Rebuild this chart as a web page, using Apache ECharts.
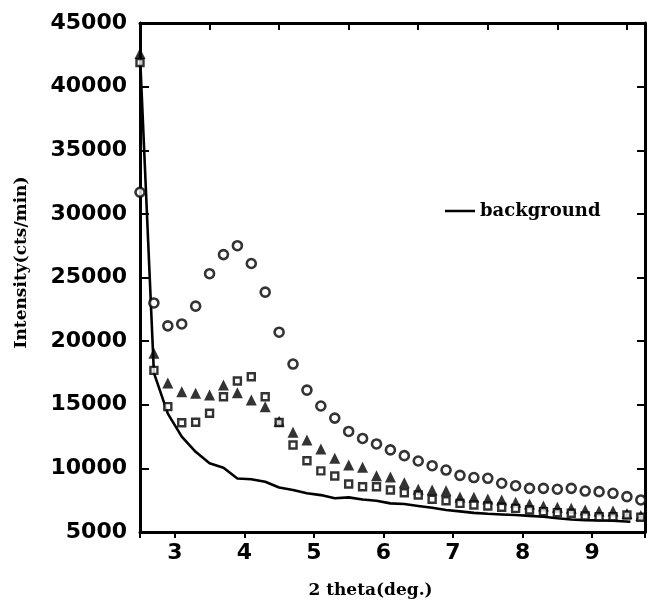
<!DOCTYPE html>
<html>
<head>
<meta charset="utf-8">
<script src="https://cdn.jsdelivr.net/npm/echarts@6/dist/echarts.min.js"></script>
<style>html,body{margin:0;padding:0;background:#fff}#c{width:648px;height:607px}</style>
</head>
<body>
<div id="c"></div>
<script>
// 2 theta sample positions (deg.)
var theta = [2.5,2.7,2.9,3.1,3.3,3.5,3.7,3.9,4.1,4.3,4.5,4.7,4.9,5.1,5.3,5.5,5.7,5.9,6.1,6.3,6.5,6.7,6.9,7.1,7.3,7.5,7.7,7.9,8.1,8.3,8.5,8.7,8.9,9.1,9.3,9.5,9.7];
// open circles
var circles = [31700,23000,21200,21350,22750,25300,26800,27500,26100,23850,20700,18200,16150,14900,13950,12900,12350,11920,11450,11000,10580,10210,9870,9450,9280,9220,8830,8640,8430,8430,8360,8430,8220,8170,8040,7780,7520];
// filled triangles
var triangles = [42600,19050,16700,16030,15900,15770,16550,15950,15380,14850,13700,12840,12230,11520,10790,10270,10090,9430,9330,8880,8360,8300,8250,7750,7730,7600,7520,7330,7200,7040,6940,6860,6730,6650,6650,6450,6300];
// open squares
var squares = [41900,17700,14850,13590,13620,14330,15630,16870,17200,15630,13600,11840,10600,9800,9400,8770,8560,8560,8300,8090,7910,7570,7460,7250,7120,7040,6940,6860,6730,6600,6520,6470,6260,6200,6200,6340,6160];
// background curve
var bgTheta = [2.5,2.7,2.9,3.1,3.3,3.5,3.7,3.9,4.1,4.3,4.5,4.7,4.9,5.1,5.3,5.5,5.7,5.9,6.1,6.3,6.5,6.7,6.9,7.1,7.3,7.5,7.7,7.9,8.1,8.3,8.5,8.7,8.9,9.1,9.3,9.55];
var bgValues = [42500,17500,14300,12500,11300,10400,10050,9200,9150,8950,8500,8300,8050,7900,7650,7720,7550,7450,7250,7200,7050,6900,6730,6620,6500,6430,6380,6330,6270,6200,6080,5980,5930,5900,5890,5810];
var xTicks = [3,4,5,6,7,8,9];
var yTicks = [5000,10000,15000,20000,25000,30000,35000,40000,45000];

function pairs(xs, ys){ return xs.map(function(x,i){ return [x, ys[i]]; }); }

var chart = echarts.init(document.getElementById('c'), null, {renderer:'canvas'});
var lbl = {color:'#000', fontFamily:'DejaVu Sans', fontWeight:'bold', fontSize:22};
var nameFont = {color:'#000', fontFamily:'DejaVu Serif', fontWeight:'bold', fontSize:17};
chart.setOption({
  animation:false,
  backgroundColor:'#fff',
  grid:{left:140, right:3, top:23, bottom:75, outerBoundsMode:'none'},
  legend:{
    data:[{name:'background', icon:'rect'}],
    left:440, top:197, itemWidth:30, itemHeight:2.5, itemGap:6,
    textStyle:{color:'#000', fontFamily:'DejaVu Serif', fontWeight:'bold', fontSize:18}
  },
  xAxis:[{
    type:'value', position:'bottom', min:2.5, max:9.76, splitNumber:7,
    name:'2 theta(deg.)', nameLocation:'middle', nameGap:50,
    nameTextStyle:Object.assign({padding:[0,44,0,0]}, nameFont),
    axisLine:{show:true, onZero:false, lineStyle:{color:'#000', width:3}},
    axisTick:{show:true, inside:false, length:6, lineStyle:{color:'#000', width:2}},
    axisLabel:Object.assign({margin:10, formatter:function(v){ return xTicks.indexOf(v)>=0 ? String(v) : ''; }}, lbl),
    splitLine:{show:false}
  },{
    type:'value', position:'top', min:2.0, max:9.26, splitNumber:7,
    axisLine:{show:true, onZero:false, lineStyle:{color:'#000', width:3}},
    axisTick:{show:true, inside:true, length:7, lineStyle:{color:'#000', width:2}},
    axisLabel:{show:false}, splitLine:{show:false}
  }],
  yAxis:[{
    type:'value', position:'left', min:5000, max:45000, interval:5000,
    name:'Intensity(cts/min)', nameLocation:'middle', nameGap:110, nameRotate:90,
    nameTextStyle:Object.assign({padding:[0,0,0,30]}, nameFont),
    axisLine:{show:true, onZero:false, lineStyle:{color:'#000', width:3}},
    axisTick:{show:true, inside:true, length:9, lineStyle:{color:'#000', width:2}},
    axisLabel:Object.assign({margin:13, formatter:function(v){ return yTicks.indexOf(v)>=0 ? String(v) : ''; }}, lbl),
    splitLine:{show:false}
  },{
    type:'value', position:'right', min:5000, max:45000, interval:5000,
    axisLine:{show:true, onZero:false, lineStyle:{color:'#000', width:3}},
    axisTick:{show:true, inside:true, length:8, lineStyle:{color:'#000', width:2}},
    axisLabel:{show:false}, splitLine:{show:false}
  }],
  series:[{
    name:'background', type:'line', xAxisIndex:0, yAxisIndex:0,
    data:pairs(bgTheta, bgValues), showSymbol:false, symbol:'none',
    lineStyle:{color:'#000', width:2.6}, itemStyle:{color:'#000'}, z:2
  },{
    name:'sample 1', type:'scatter', data:pairs(theta, circles),
    symbol:'circle', symbolSize:9,
    itemStyle:{color:'#fff', borderColor:'#000', borderWidth:2.6}, z:3
  },{
    name:'sample 2', type:'scatter', data:pairs(theta, triangles),
    symbol:'triangle', symbolSize:11,
    itemStyle:{color:'#000'}, z:4
  },{
    name:'sample 3', type:'scatter', data:pairs(theta, squares),
    symbol:'rect', symbolSize:7,
    itemStyle:{color:'#fff', borderColor:'#000', borderWidth:2.4}, z:5
  }]
});
</script>
</body>
</html>
